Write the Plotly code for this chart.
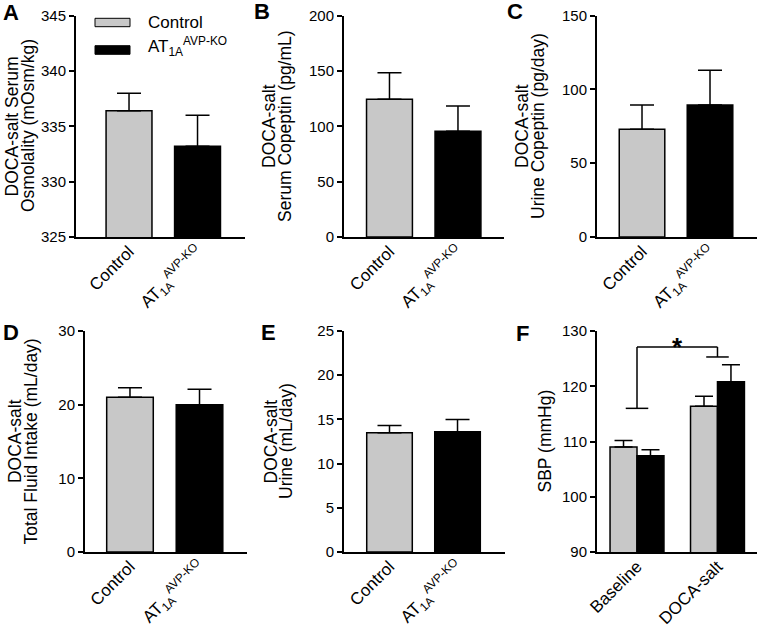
import plotly.graph_objects as go

# ---------------- data ----------------
groups = ["Control", "AT<sub>1A</sub><sup>AVP-KO</sup>"]
legend_labels = ["Control", "AT<sub>1A</sub><sup>AVP-KO</sup>"]

osmolality_mean = [336.4, 333.2]
osmolality_sem = [1.6, 2.8]

serum_copeptin_mean = [124.5, 95.5]
serum_copeptin_sem = [24.0, 23.0]

urine_copeptin_mean = [73.0, 89.5]
urine_copeptin_sem = [16.5, 23.5]

fluid_intake_mean = [21.0, 20.0]
fluid_intake_sem = [1.3, 2.1]

urine_volume_mean = [13.5, 13.6]
urine_volume_sem = [0.8, 1.4]

sbp_periods = ["Baseline", "DOCA-salt"]
sbp_control_mean = [109.0, 116.4]
sbp_control_sem = [1.2, 1.8]
sbp_ko_mean = [107.4, 120.8]
sbp_ko_sem = [1.1, 3.1]

# significance bracket levels (mmHg) for panel F
bracket_left_y = 116.0
bracket_right_y = 125.3
bracket_top_y = 127.1

# ---------------- styling ----------------
W, H = 758, 631
GRAY = "#c8c8c8"
BLACK = "#000000"
FONT = "Liberation Sans, Arial, sans-serif"


def px_x(p):
    return p / W


def px_y(p):
    return 1 - p / H


fig = go.Figure()

panels = [
    dict(means=osmolality_mean, sems=osmolality_sem, yr=[325, 345], dt=5,
         xd=(76, 245), yd=(15.7, 237), xr=[-0.774, 1.693]),
    dict(means=serum_copeptin_mean, sems=serum_copeptin_sem, yr=[0, 200], dt=50,
         xd=(344, 504), yd=(15.7, 237), xr=[-0.664, 1.672]),
    dict(means=urine_copeptin_mean, sems=urine_copeptin_sem, yr=[0, 150], dt=50,
         xd=(597, 757), yd=(15.7, 237), xr=[-0.662, 1.691]),
    dict(means=fluid_intake_mean, sems=fluid_intake_sem, yr=[0, 30], dt=10,
         xd=(85, 247), yd=(331, 552), xr=[-0.647, 1.683]),
    dict(means=urine_volume_mean, sems=urine_volume_sem, yr=[0, 25], dt=5,
         xd=(344, 505), yd=(331, 552), xr=[-0.669, 1.698]),
]

axis_common = dict(
    showline=True, linecolor=BLACK, linewidth=2, showgrid=False, zeroline=False,
    automargin=False, fixedrange=True,
)
xfont = dict(family=FONT, size=17, color=BLACK)
yfont = dict(family=FONT, size=15, color=BLACK)

layout_axes = {}
for i, p in enumerate(panels, start=1):
    xa = "x" if i == 1 else f"x{i}"
    ya = "y" if i == 1 else f"y{i}"
    fig.add_trace(go.Bar(
        x=[0, 1], y=p["means"], xaxis=xa, yaxis=ya,
        marker=dict(color=[GRAY, BLACK], line=dict(color=BLACK, width=1.5)),
        error_y=dict(type="data", array=p["sems"], arrayminus=[0, 0], symmetric=False,
                     color=BLACK, thickness=1.5, width=12),
        showlegend=False, hoverinfo="skip",
    ))
    xkey = "xaxis" if i == 1 else f"xaxis{i}"
    ykey = "yaxis" if i == 1 else f"yaxis{i}"
    layout_axes[xkey] = dict(
        axis_common, domain=[px_x(p["xd"][0]), px_x(p["xd"][1])], range=p["xr"],
        anchor=ya, tickvals=[0, 1], ticktext=groups, ticks="", tickangle=-45,
        tickfont=xfont, ticklabelstandoff=-4,
    )
    layout_axes[ykey] = dict(
        axis_common, domain=[px_y(p["yd"][1]), px_y(p["yd"][0])], range=p["yr"],
        anchor=xa, dtick=p["dt"], tick0=p["yr"][0], ticks="outside", ticklen=5,
        tickwidth=2, tickcolor=BLACK, tickfont=yfont,
    )

# Panel F grouped bars
fig.add_trace(go.Bar(
    x=[0, 1], y=sbp_control_mean, xaxis="x6", yaxis="y6",
    marker=dict(color=GRAY, line=dict(color=BLACK, width=1.5)),
    error_y=dict(type="data", array=sbp_control_sem, arrayminus=[0, 0], symmetric=False,
                 color=BLACK, thickness=1.5, width=9),
    showlegend=False, hoverinfo="skip",
))
fig.add_trace(go.Bar(
    x=[0, 1], y=sbp_ko_mean, xaxis="x6", yaxis="y6",
    marker=dict(color=BLACK, line=dict(color=BLACK, width=1.5)),
    error_y=dict(type="data", array=sbp_ko_sem, arrayminus=[0, 0], symmetric=False,
                 color=BLACK, thickness=1.5, width=9),
    showlegend=False, hoverinfo="skip",
))
layout_axes["xaxis6"] = dict(
    axis_common, domain=[px_x(597), px_x(757)], range=[-0.497, 1.491], anchor="y6",
    tickvals=[0, 1], ticktext=sbp_periods, ticks="", tickangle=-45, tickfont=xfont,
    ticklabelstandoff=-4,
)
layout_axes["yaxis6"] = dict(
    axis_common, domain=[px_y(552), px_y(331)], range=[90, 130], anchor="x6",
    dtick=10, tick0=90, ticks="outside", ticklen=5, tickwidth=2, tickcolor=BLACK,
    tickfont=yfont,
)

shapes = []
annotations = []

# significance bracket
line = dict(color=BLACK, width=1.5)
shapes += [
    dict(type="line", xref="x6", yref="y6", x0=0, x1=0, y0=bracket_left_y, y1=bracket_top_y, line=line),
    dict(type="line", xref="x6", yref="y6", x0=0, x1=1, y0=bracket_top_y, y1=bracket_top_y, line=line),
    dict(type="line", xref="x6", yref="y6", x0=1, x1=1, y0=bracket_right_y, y1=bracket_top_y, line=line),
    dict(type="line", xref="x6", yref="y6", x0=-0.14, x1=0.14, y0=bracket_left_y, y1=bracket_left_y, line=line),
    dict(type="line", xref="x6", yref="y6", x0=0.86, x1=1.14, y0=bracket_right_y, y1=bracket_right_y, line=line),
]
annotations.append(dict(xref="x6", yref="y6", x=0.5, y=bracket_top_y, text="<b>*</b>",
                        showarrow=False, xanchor="center", yanchor="middle",
                        font=dict(family=FONT, size=26, color=BLACK)))

# legend (panel A)
shapes += [
    dict(type="rect", xref="paper", yref="paper", x0=px_x(95), x1=px_x(130),
         y0=px_y(26.7), y1=px_y(18.3), fillcolor=GRAY, line=dict(color=BLACK, width=1)),
    dict(type="rect", xref="paper", yref="paper", x0=px_x(95), x1=px_x(130),
         y0=px_y(54.3), y1=px_y(45.7), fillcolor=BLACK, line=dict(color=BLACK, width=1)),
]
annotations += [
    dict(xref="paper", yref="paper", x=px_x(146), y=px_y(23), text=legend_labels[0],
         showarrow=False, xanchor="left", yanchor="middle",
         font=dict(family=FONT, size=17, color=BLACK)),
    dict(xref="paper", yref="paper", x=px_x(146), y=px_y(46), text=legend_labels[1],
         showarrow=False, xanchor="left", yanchor="middle",
         font=dict(family=FONT, size=17, color=BLACK)),
]

# panel letters
for letter, cx, cy in [("A", 11, 12.5), ("B", 262, 11.5), ("C", 515, 11.5),
                       ("D", 11, 332.5), ("E", 268.5, 332.5), ("F", 522.5, 333.5)]:
    annotations.append(dict(xref="paper", yref="paper", x=px_x(cx), y=px_y(cy),
                            text=f"<b>{letter}</b>", showarrow=False,
                            xanchor="center", yanchor="middle",
                            font=dict(family=FONT, size=22, color=BLACK)))

# y-axis titles (one annotation per line)
TFS = 17.5
titles = [
    ("DOCA-salt Serum", 12.4, 126), ("Osmolality (mOsm/kg)", 28, 126),
    ("DOCA-salt", 269, 126), ("Serum Copeptin (pg/mL)", 285, 126),
    ("DOCA-salt", 522, 126), ("Urine Copeptin (pg/day)", 538, 126),
    ("DOCA-salt", 14.6, 441.5), ("Total Fluid Intake (mL/day)", 30, 441.5),
    ("DOCA-salt", 270, 441.5), ("Urine (mL/day)", 285.5, 441.5),
    ("SBP (mmHg)", 544, 441.5),
]
for txt, cx, cy in titles:
    annotations.append(dict(xref="paper", yref="paper", x=px_x(cx), y=px_y(cy),
                            text=txt, textangle=-90, showarrow=False,
                            xanchor="center", yanchor="middle",
                            font=dict(family=FONT, size=TFS, color=BLACK)))

fig.update_layout(
    width=W, height=H, margin=dict(l=0, r=0, t=0, b=0, autoexpand=False),
    paper_bgcolor="white", plot_bgcolor="white",
    barmode="group", bargap=0.33, bargroupgap=0,
    shapes=shapes, annotations=annotations,
    font=dict(family=FONT, color=BLACK),
    hovermode=False,
    **layout_axes,
)

fig.write_html(
    "out.html",
    config={"displayModeBar": False, "staticPlot": True},
    post_script="document.body.style.margin='0';document.body.style.overflow='hidden';",
)
